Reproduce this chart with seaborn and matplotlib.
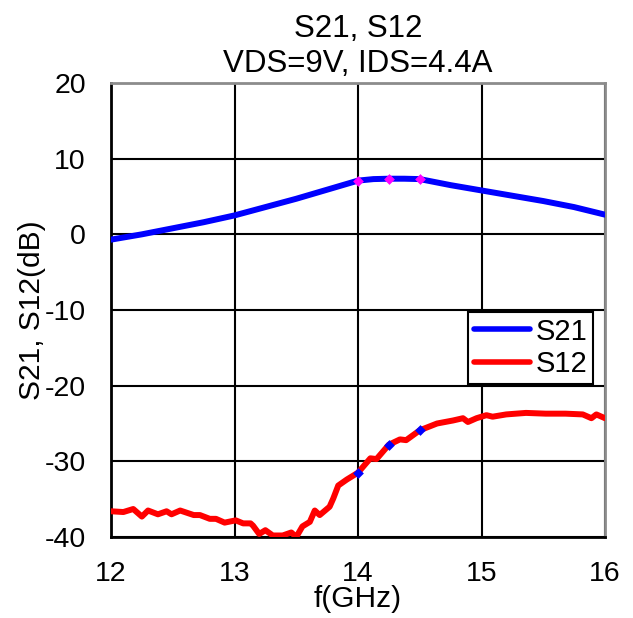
import matplotlib
matplotlib.use("Agg")
import matplotlib.pyplot as plt
from matplotlib.lines import Line2D
import seaborn as sns
import pandas as pd

# Small-signal gain and isolation, VDS=9V, IDS=4.4A
s21_freq = [12.0, 12.25, 12.5, 12.75, 13.0, 13.25, 13.5, 13.75, 14.0, 14.125,
            14.25, 14.375, 14.5, 14.75, 15.0, 15.25, 15.5, 15.75, 16.0]
s21_db = [-0.7, 0.0, 0.8, 1.6, 2.5, 3.6, 4.7, 5.9, 7.1, 7.3,
          7.35, 7.35, 7.3, 6.5, 5.8, 5.1, 4.4, 3.6, 2.6]

s12_freq = [12.0, 12.1, 12.18, 12.25, 12.3, 12.38, 12.45, 12.49, 12.56, 12.67,
            12.72, 12.8, 12.85, 12.92, 13.01, 13.07, 13.13, 13.15, 13.2, 13.25,
            13.31, 13.39, 13.46, 13.5, 13.55, 13.61, 13.65, 13.69, 13.77, 13.8,
            13.84, 13.91, 14.0, 14.1, 14.15, 14.25, 14.34, 14.39, 14.5, 14.64,
            14.77, 14.85, 14.89, 14.96, 15.04, 15.09, 15.2, 15.36, 15.52, 15.68,
            15.82, 15.89, 15.93, 16.0]
s12_db = [-36.6, -36.7, -36.3, -37.3, -36.5, -37.0, -36.6, -37.0, -36.5, -37.1,
          -37.1, -37.6, -37.6, -38.1, -37.8, -38.2, -38.2, -38.5, -39.6, -39.1,
          -39.8, -39.8, -39.4, -40.0, -38.6, -38.0, -36.5, -37.1, -36.0, -34.9,
          -33.2, -32.4, -31.5, -29.6, -29.7, -27.8, -27.1, -27.2, -25.9, -25.0,
          -24.6, -24.3, -24.8, -24.3, -23.9, -24.1, -23.8, -23.6, -23.7, -23.7,
          -23.8, -24.3, -23.8, -24.3]

marker_freq = [14.0, 14.25, 14.5]
s21_marker_db = [7.1, 7.35, 7.3]
s12_marker_db = [-31.5, -27.8, -25.9]

x_ticks = [12, 13, 14, 15, 16]
y_ticks = [-40, -30, -20, -10, 0, 10, 20]

df = pd.concat([
    pd.DataFrame({"f": s21_freq, "dB": s21_db, "trace": "S21"}),
    pd.DataFrame({"f": s12_freq, "dB": s12_db, "trace": "S12"}),
], ignore_index=True)

sns.set_style("white")
plt.rcParams["font.family"] = ["Liberation Sans", "DejaVu Sans"]
plt.rcParams["axes.unicode_minus"] = False
for key in ("text.color", "axes.labelcolor", "xtick.color", "ytick.color"):
    plt.rcParams[key] = "black"

fig = plt.figure(figsize=(6.33, 6.18), dpi=100)
ax = fig.add_axes([111 / 633, 1 - 537 / 618, 494 / 633, 454 / 618])

ax.grid(True, color="black", linewidth=1.5)
ax.set_axisbelow(True)

sns.lineplot(data=df, x="f", y="dB", hue="trace", palette={"S21": "#0000ff", "S12": "#ff0000"},
             linewidth=4.3, sort=False, estimator=None, ax=ax, zorder=3, legend=False)

ax.scatter(marker_freq, s21_marker_db, marker="D", s=30, color="#ff00ff", zorder=4, linewidths=0)
ax.scatter(marker_freq, s12_marker_db, marker="D", s=30, color="#0000ff", zorder=4, linewidths=0)

ax.set_xlim(12, 16)
ax.set_ylim(-40, 20)
ax.set_xticks(x_ticks)
ax.set_yticks(y_ticks)
ax.tick_params(axis="both", length=0, labelsize=20.5)
ax.tick_params(axis="x", pad=17)
ax.tick_params(axis="y", pad=18)

for side in ("left", "bottom"):
    ax.spines[side].set_color("black")
    ax.spines[side].set_linewidth(2)
for side in ("top", "right"):
    ax.spines[side].set_color("#8c8c8c")
    ax.spines[side].set_linewidth(2)
    ax.spines[side].set_visible(True)

ax.set_xlabel("f(GHz)", fontsize=21.5, labelpad=-1)
ax.set_ylabel("S21, S12(dB)", fontsize=21.5, labelpad=-1)
ax.set_title("S21, S12\nVDS=9V, IDS=4.4A", fontsize=22.5, pad=8, linespacing=1.2)

handles = [Line2D([], [], color="#0000ff", linewidth=4),
           Line2D([], [], color="#ff0000", linewidth=4)]
leg = ax.legend(handles, ["S21", "S12"], loc="upper right", bbox_to_anchor=(0.976, 0.496),
                fontsize=21, frameon=True, fancybox=False, handlelength=1.9,
                handletextpad=0.2, borderpad=0.2, labelspacing=0.15, borderaxespad=0)
leg.get_frame().set_edgecolor("black")
leg.get_frame().set_linewidth(1.5)
leg.get_frame().set_alpha(1)
leg.set_zorder(5)

fig.savefig("out.png", dpi=100)
